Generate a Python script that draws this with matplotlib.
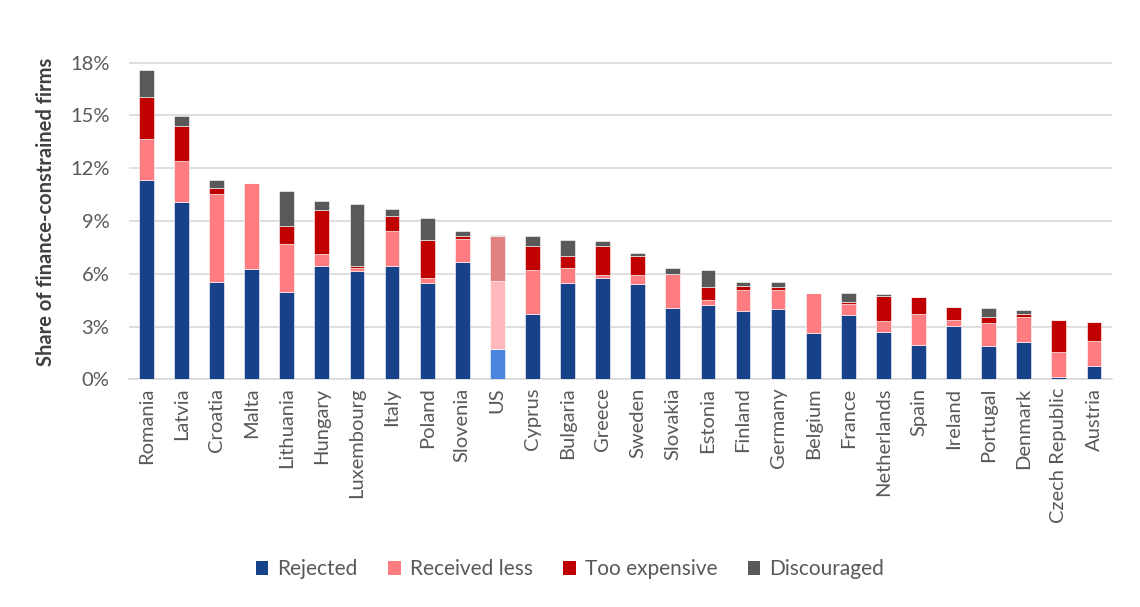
import numpy as np
import matplotlib
matplotlib.use("Agg")
import matplotlib.pyplot as plt
from matplotlib.patches import Patch

plt.rcParams['font.family'] = ['Lato', 'DejaVu Sans']

# Pays tries par part totale de firmes contraintes
countries = ["Romania", "Latvia", "Croatia", "Malta", "Lithuania", "Hungary", "Luxembourg",
             "Italy", "Poland", "Slovenia", "US", "Cyprus", "Bulgaria", "Greece", "Sweden",
             "Slovakia", "Estonia", "Finland", "Germany", "Belgium", "France", "Netherlands",
             "Spain", "Ireland", "Portugal", "Denmark", "Czech Republic", "Austria"]

# Parts en %
rejected = [11.34, 10.09, 5.55, 6.28, 4.98, 6.44, 6.15, 6.46, 5.47, 6.66, 1.70, 3.71, 5.49, 5.74,
            5.40, 4.07, 4.24, 3.88, 3.98, 2.65, 3.67, 2.69, 1.95, 3.03, 1.89, 2.12, 0.13, 0.76]
received_less = [2.31, 2.31, 4.98, 4.87, 2.73, 0.68, 0.16, 1.97, 0.29, 1.33, 3.89, 2.50, 0.82, 0.19,
                 0.51, 1.91, 0.27, 1.19, 1.09, 2.24, 0.61, 0.62, 1.78, 0.32, 1.31, 1.40, 1.42, 1.42]
too_expensive = [2.41, 2.01, 0.34, 0.00, 0.98, 2.52, 0.15, 0.87, 2.14, 0.15, 2.55, 1.38, 0.71, 1.66,
                 1.11, 0.03, 0.75, 0.21, 0.19, 0.00, 0.13, 1.44, 0.95, 0.78, 0.36, 0.21, 1.80, 1.06]
discouraged = [1.52, 0.57, 0.45, 0.00, 1.99, 0.47, 3.48, 0.38, 1.26, 0.29, 0.05, 0.55, 0.88, 0.25,
               0.14, 0.34, 0.93, 0.25, 0.25, 0.00, 0.48, 0.10, 0.00, 0.00, 0.49, 0.19, 0.00, 0.00]

series = [("Rejected", rejected, "#17428a", "#4a86e0"),
          ("Received less", received_less, "#ff7c80", "#ffb9bd"),
          ("Too expensive", too_expensive, "#c00000", "#e08080"),
          ("Discouraged", discouraged, "#595959", "#a0a0a0")]

x = np.arange(len(countries))
us = countries.index("US")

fig = plt.figure(figsize=(11.4, 6.07), dpi=100)
ax = fig.add_axes([0.113, 0.375, 0.862, 0.551])

bottom = np.zeros(len(countries))
for name, vals, col, col_us in series:
    vals = np.array(vals)
    colors = [col_us if i == us else col for i in range(len(countries))]
    ax.bar(x, vals, 0.42, bottom=bottom, color=colors, edgecolor="#ffffff", linewidth=0.4,
           label=name, zorder=3)
    bottom += vals

ax.set_xlim(-0.5, len(countries) - 0.5)
ax.set_ylim(0, 19)
ax.set_yticks(np.arange(0, 19, 3))
ax.set_yticklabels([f"{v}%" for v in range(0, 19, 3)])
ax.yaxis.grid(True, color="#d9d9d9", linewidth=1.2, zorder=0)
ax.set_xticks(x)
ax.set_xticklabels(countries, rotation=90)
ax.tick_params(axis="both", length=0, colors="#595959", labelsize=14.5)
ax.tick_params(axis="x", pad=6)
ax.tick_params(axis="y", pad=14)
for s in ["top", "right", "left"]:
    ax.spines[s].set_visible(False)
ax.spines["bottom"].set_color("#d9d9d9")
ax.spines["bottom"].set_linewidth(1.2)

ax.set_ylabel("Share of finance-constrained firms", fontsize=14.5, fontweight="bold",
              color="#404040", labelpad=10)

handles = [Patch(facecolor=col, label=name) for name, _, col, _ in series]
fig.legend(handles=handles, loc="center", bbox_to_anchor=(0.5, 0.062), ncol=4, frameon=False,
           fontsize=15, handlelength=0.6, handleheight=0.6, handletextpad=0.45, columnspacing=1.45,
           labelcolor="#595959")

fig.savefig("out.png", dpi=100)
